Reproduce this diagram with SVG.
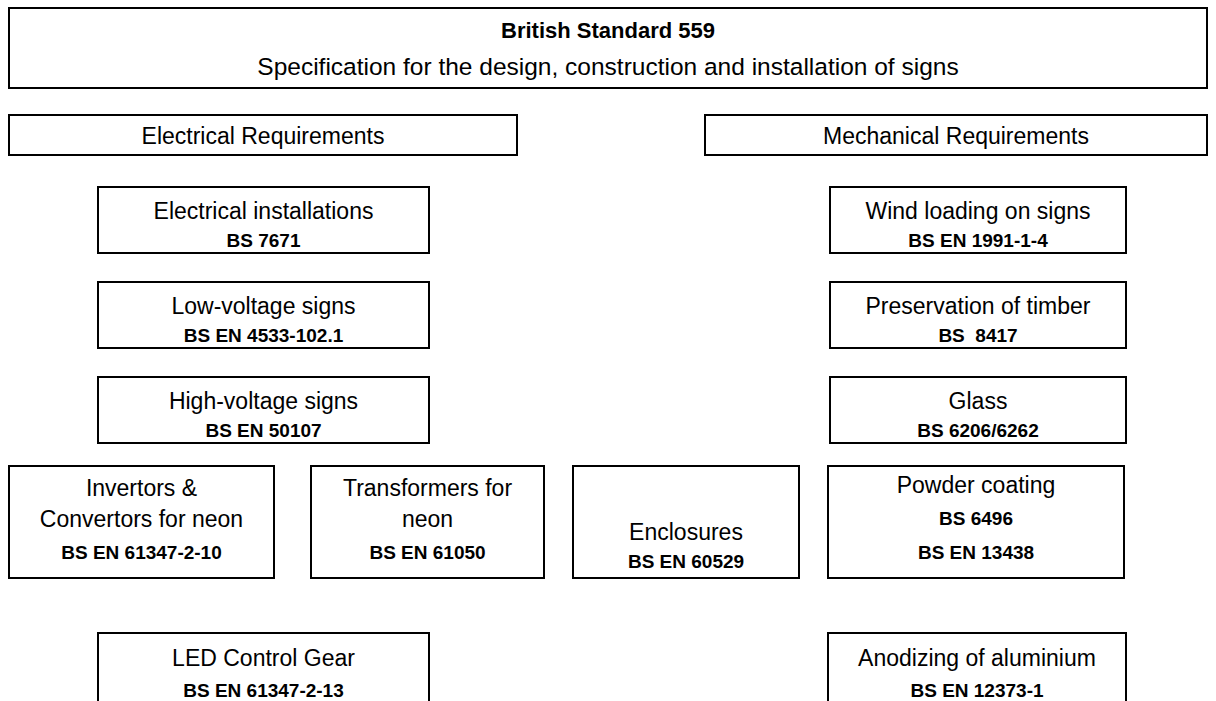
<svg xmlns="http://www.w3.org/2000/svg" width="1216" height="701" viewBox="0 0 1216 701">
<style>
rect{fill:#fff;stroke:#000;stroke-width:2}
text{font-family:"Liberation Sans",Arial,sans-serif;fill:#000;text-anchor:middle}
.n{font-size:23px}
.s{font-size:24.5px}
.b{font-size:19px;font-weight:bold}
.t{font-size:22px;font-weight:bold}
</style>
<rect x="0" y="0" width="1216" height="701" style="stroke:none"/>
<g id="title"><rect x="9" y="8" width="1198" height="80"/><text class="t" x="608" y="38">British Standard 559</text><text class="s" x="608" y="75">Specification for the design, construction and installation of signs</text></g>
<g id="electrical"><rect x="9" y="115" width="508" height="40"/><text class="n" x="263" y="144">Electrical Requirements</text></g>
<g id="mechanical"><rect x="705" y="115" width="502" height="40"/><text class="n" x="956" y="144">Mechanical Requirements</text></g>
<g id="elinst"><rect x="98" y="187" width="331" height="66"/><text class="n" x="263.5" y="219">Electrical installations</text><text class="b" x="263.5" y="247">BS 7671</text></g>
<g id="lowv"><rect x="98" y="282" width="331" height="66"/><text class="n" x="263.5" y="314">Low-voltage signs</text><text class="b" x="263.5" y="342">BS EN 4533-102.1</text></g>
<g id="highv"><rect x="98" y="377" width="331" height="66"/><text class="n" x="263.5" y="409">High-voltage signs</text><text class="b" x="263.5" y="437">BS EN 50107</text></g>
<g id="wind"><rect x="830" y="187" width="296" height="66"/><text class="n" x="978" y="219">Wind loading on signs</text><text class="b" x="978" y="247">BS EN 1991-1-4</text></g>
<g id="timber"><rect x="830" y="282" width="296" height="66"/><text class="n" x="978" y="314">Preservation of timber</text><text class="b" x="978" y="342" xml:space="preserve">BS  8417</text></g>
<g id="glass"><rect x="830" y="377" width="296" height="66"/><text class="n" x="978" y="409">Glass</text><text class="b" x="978" y="437">BS 6206/6262</text></g>
<g id="invertors"><rect x="9" y="466" width="265" height="112"/><text class="n" x="141.5" y="496">Invertors &amp;</text><text class="n" x="141.5" y="527">Convertors for neon</text><text class="b" x="141.5" y="559">BS EN 61347-2-10</text></g>
<g id="transformers"><rect x="311" y="466" width="233" height="112"/><text class="n" x="427.5" y="496">Transformers for</text><text class="n" x="427.5" y="527">neon</text><text class="b" x="427.5" y="559">BS EN 61050</text></g>
<g id="enclosures"><rect x="573" y="466" width="226" height="112"/><text class="n" x="686" y="540">Enclosures</text><text class="b" x="686" y="568">BS EN 60529</text></g>
<g id="powder"><rect x="828" y="466" width="296" height="112"/><text class="n" x="976" y="493">Powder coating</text><text class="b" x="976" y="525">BS 6496</text><text class="b" x="976" y="559">BS EN 13438</text></g>
<g id="led"><rect x="98" y="633" width="331" height="90"/><text class="n" x="263.5" y="666">LED Control Gear</text><text class="b" x="263.5" y="697">BS EN 61347-2-13</text></g>
<g id="anod"><rect x="828" y="633" width="298" height="90"/><text class="n" x="977" y="666">Anodizing of aluminium</text><text class="b" x="977" y="697">BS EN 12373-1</text></g>
<g id="connectors"/>
</svg>
